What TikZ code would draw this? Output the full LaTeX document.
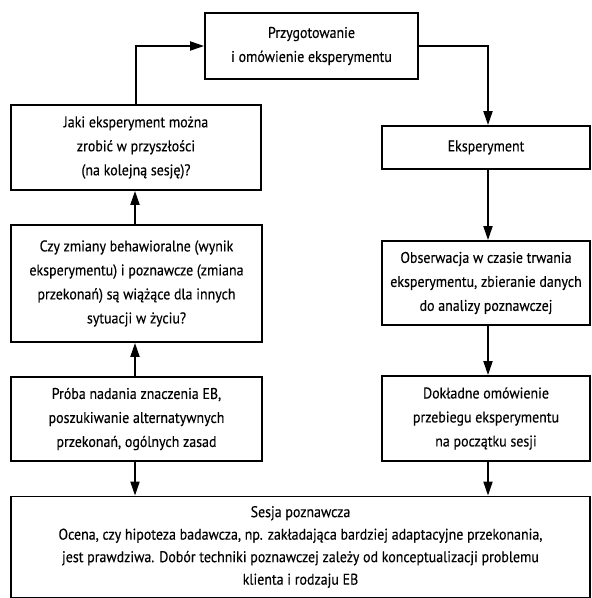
\documentclass[tikz,border=0pt]{standalone}
\usepackage{fontspec}
\setmainfont[FakeStretch=0.9,FakeBold=0.3]{PT Sans}
\usetikzlibrary{arrows.meta,calc}
\begin{document}
\begin{tikzpicture}[x=1pt,y=-1pt,
  box/.style={draw,line width=1.8pt,align=center,inner sep=0pt,
    font=\fontsize{15.5}{24}\selectfont},
  conn/.style={line width=1.8pt,-{Triangle[length=14pt,width=9pt]}}]
\useasboundingbox (0,0) rectangle (592,598);
\node[box,minimum width=213pt,minimum height=66pt] (top) at (311.5,46) {Przygotowanie\\i omówienie eksperymentu};
\node[box,minimum width=250pt,minimum height=85pt] (jaki) at (136,147.5) {Jaki eksperyment można\\zrobić w przyszłości\\(na kolejną sesję)?};
\node[box,minimum width=251pt,minimum height=117pt] (czy) at (136.5,283.5) {Czy zmiany behawioralne (wynik\\eksperymentu) i poznawcze (zmiana\\przekonań) są wiążące dla innych\\sytuacji w życiu?};
\node[box,minimum width=251pt,minimum height=84pt] (proba) at (136.5,419) {Próba nadania znaczenia EB,\\poszukiwanie alternatywnych\\przekonań, ogólnych zasad};
\node[box,minimum width=208pt,minimum height=43pt] (eksp) at (486,147.5) {Eksperyment};
\node[box,minimum width=208pt,minimum height=84pt] (obs) at (486,283) {Obserwacja w czasie trwania\\eksperymentu, zbieranie danych\\do analizy poznawczej};
\node[box,minimum width=208pt,minimum height=85pt] (dok) at (486,418.5) {Dokładne omówienie\\przebiegu eksperymentu\\na początku sesji};
\node[box,minimum width=579pt,minimum height=101pt,font=\fontsize{15.5}{22.5}\selectfont] (sesja) at (300.5,547) {Sesja poznawcza\\Ocena, czy hipoteza badawcza, np. zakładająca bardziej adaptacyjne przekonania,\\jest prawdziwa. Dobór techniki poznawczej zależy od konceptualizacji problemu\\klienta i rodzaju EB};
\draw[conn] (jaki.north) |- (top.west);
\draw[conn] (top.east) -| ($(eksp.north)+(2,0)$);
\draw[conn] (eksp.south) ++(2,0) coordinate (e1) -- (e1 |- obs.north);
\draw[conn] (obs.south) ++(2,0) coordinate (o1) -- (o1 |- dok.north);
\draw[conn] (dok.south) ++(2,0) coordinate (d1) -- (d1 |- sesja.north);
\draw[conn] (proba.south) ++(-1.5,0) coordinate (p1) -- (p1 |- sesja.north);
\draw[conn] (proba.north) ++(-1.5,0) coordinate (p2) -- (p2 |- czy.south);
\draw[conn] (czy.north) ++(-1.5,0) coordinate (c1) -- (c1 |- jaki.south);
\end{tikzpicture}
\end{document}
